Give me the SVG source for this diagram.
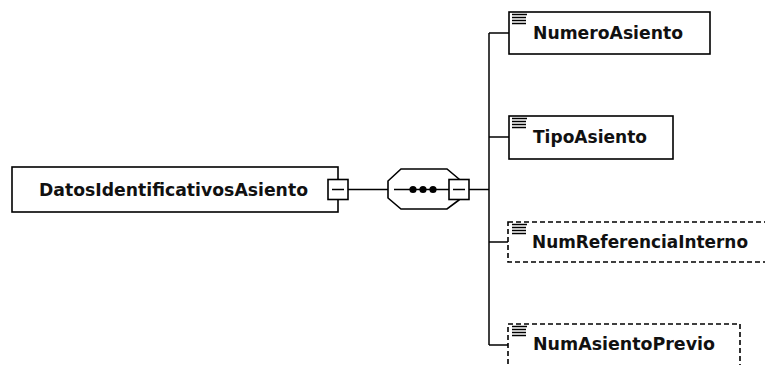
<svg xmlns="http://www.w3.org/2000/svg" width="765" height="365" viewBox="0 0 765 365">
<defs>
<style>
.box{fill:#fff;stroke:#000;stroke-width:1.6}
.opt{fill:#fff;stroke:#000;stroke-width:1.6;stroke-dasharray:5 3}
.ln{fill:none;stroke:#000;stroke-width:1.5}
.lbl{font-family:"DejaVu Sans",Verdana,sans-serif;font-weight:bold;font-size:17.5px;fill:#111}
.ic{stroke:#000;stroke-width:1.5}
</style>
<g id="elicon">
<line class="ic" x1="512" y1="14.5" x2="527" y2="14.5"/>
<line class="ic" x1="512" y1="17.5" x2="526" y2="17.5"/>
<line class="ic" x1="512" y1="20.5" x2="526" y2="20.5"/>
<line class="ic" x1="512" y1="23.5" x2="526" y2="23.5"/>
</g>
</defs>
<rect width="765" height="365" fill="#fff"/>
<g id="connectors">
<line class="ln" x1="348" y1="189.5" x2="388" y2="189.5"/>
<line class="ln" x1="469" y1="189.5" x2="489" y2="189.5"/>
<line class="ln" x1="489" y1="33" x2="489" y2="345"/>
<line class="ln" x1="489" y1="33" x2="509" y2="33"/>
<line class="ln" x1="489" y1="137" x2="509" y2="137"/>
<line class="ln" x1="489" y1="242" x2="508" y2="242"/>
<line class="ln" x1="489" y1="345" x2="508" y2="345"/>
</g>
<g id="DatosIdentificativosAsiento">
<rect class="box" x="12" y="167" width="326" height="45"/>
<text class="lbl" x="39" y="195.5" textLength="269" lengthAdjust="spacingAndGlyphs">DatosIdentificativosAsiento</text>
<rect class="box" x="328" y="179.5" width="20" height="20"/>
<line class="ln" x1="332" y1="189.5" x2="344" y2="189.5"/>
</g>
<g id="sequence">
<path class="box" d="M401,169 L447,169 L459,179 L459,200 L447,209 L401,209 L388,198 L388,181 Z"/>
<line class="ln" x1="394" y1="189.5" x2="449" y2="189.5"/>
<circle cx="413" cy="189.5" r="3.6"/>
<circle cx="423" cy="189.5" r="3.6"/>
<circle cx="433" cy="189.5" r="3.6"/>
<rect class="box" x="449" y="179.5" width="20" height="20"/>
<line class="ln" x1="453" y1="189.5" x2="465" y2="189.5"/>
</g>
<g id="NumeroAsiento">
<rect class="box" x="509" y="12" width="201" height="42"/>
<use href="#elicon"/>
<text class="lbl" x="533" y="38.5" textLength="150" lengthAdjust="spacingAndGlyphs">NumeroAsiento</text>
</g>
<g id="TipoAsiento">
<rect class="box" x="509" y="116" width="164" height="43"/>
<use href="#elicon" transform="translate(0,104)"/>
<text class="lbl" x="533" y="142.5" textLength="114" lengthAdjust="spacingAndGlyphs">TipoAsiento</text>
</g>
<g id="NumReferenciaInterno">
<rect class="opt" x="508" y="222" width="270" height="40"/>
<use href="#elicon" transform="translate(0,210)"/>
<text class="lbl" x="532" y="247.5" textLength="216" lengthAdjust="spacingAndGlyphs">NumReferenciaInterno</text>
</g>
<g id="NumAsientoPrevio">
<rect class="opt" x="508" y="324" width="232" height="44"/>
<use href="#elicon" transform="translate(0,312)"/>
<text class="lbl" x="533" y="349.5" textLength="182" lengthAdjust="spacingAndGlyphs">NumAsientoPrevio</text>
</g>
</svg>
